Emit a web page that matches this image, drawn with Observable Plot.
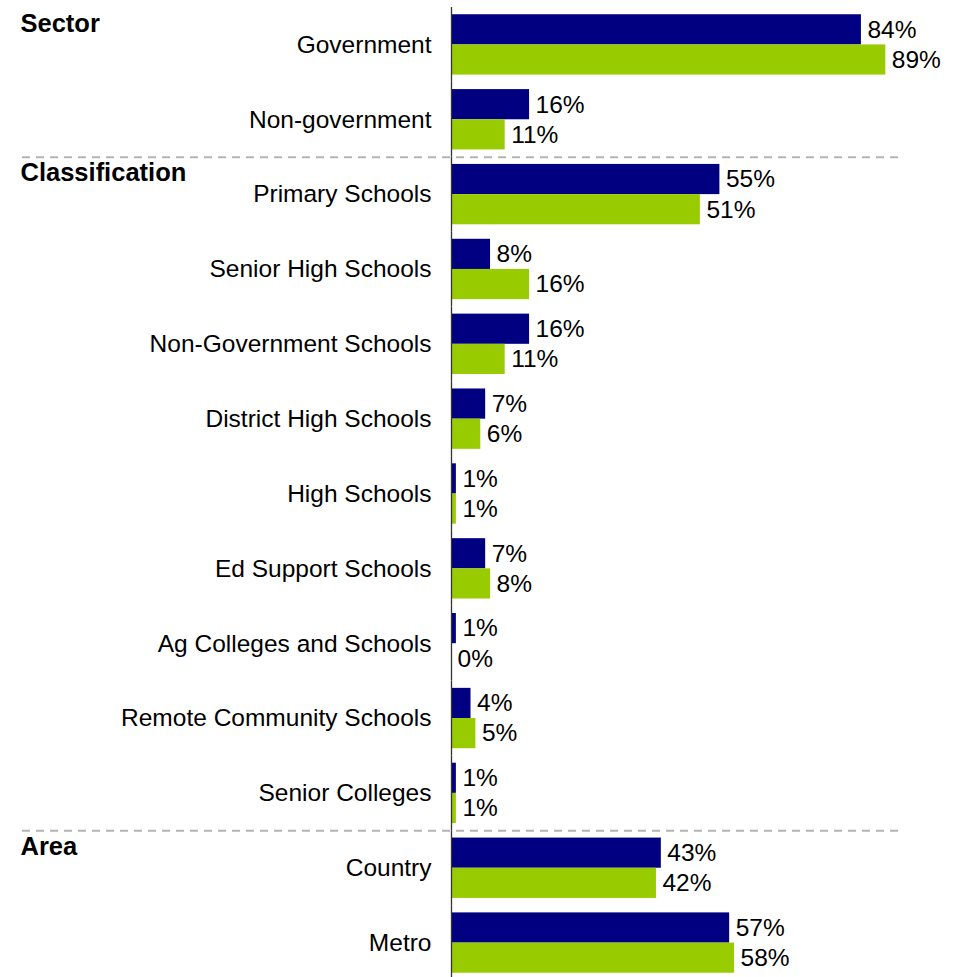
<!DOCTYPE html>
<html><head><meta charset="utf-8">
<script src="https://cdn.jsdelivr.net/npm/d3@7"></script>
<script src="https://cdn.jsdelivr.net/npm/@observablehq/plot@0.6"></script>
<style>html,body{margin:0;padding:0;overflow:hidden;background:#fff}</style>
</head><body><div id="chart"></div>
<script>
const categories = ["Government","Non-government","Primary Schools","Senior High Schools","Non-Government Schools","District High Schools","High Schools","Ed Support Schools","Ag Colleges and Schools","Remote Community Schools","Senior Colleges","Country","Metro"];
const series = ["Series 1","Series 2"];
const series1Values = [84,16,55,8,16,7,1,7,1,4,1,43,57];
const series2Values = [89,11,51,16,11,6,1,8,0,5,1,42,58];
const groupNames = ["Sector","Classification","Area"];
const groupFirstCategory = ["Government","Primary Schools","Country"];
const seriesColors = ["#000080","#99CC00"];

const data = categories.flatMap((c, i) => [
  {category: c, series: series[0], value: series1Values[i]},
  {category: c, series: series[1], value: series2Values[i]}
]);
const groups = groupNames.map((name, i) => ({name, first: groupFirstCategory[i]}));
const separators = groupFirstCategory.slice(1);

const H = 980, MT = 7, MB = 0, PO = 0.24;
const step = (H - MT - MB) / categories.length;
const bw = step / (2 + 2 * PO);
const ruleOffset = -(PO * bw + bw / 2);

const chart = Plot.plot({
  width: 964, height: H,
  marginLeft: 451, marginRight: 25, marginTop: MT, marginBottom: MB,
  style: {fontFamily: "'Liberation Sans', Arial, sans-serif", fontSize: "24.5px", color: "#000", background: "#fff"},
  x: {domain: [0, 100], axis: null},
  y: {domain: series, axis: null, paddingInner: 0, paddingOuter: PO, round: false},
  fy: {domain: categories, padding: 0, axis: null, round: false},
  color: {domain: series, range: seriesColors},
  marks: [
    Plot.axisFy({anchor: "left", tickSize: 0, tickPadding: 20, label: null, fontSize: 24.5, fill: "#000"}),
    Plot.barX(data, {x: "value", y: "series", fy: "category", fill: "series"}),
    Plot.text(data, {x: "value", y: "series", fy: "category", text: d => d.value + "%", dx: 6, textAnchor: "start", fontSize: 24.5, fill: "#000"}),
    Plot.ruleY(separators, {fy: d => d, y: () => series[0], dy: ruleOffset, insetLeft: -429, insetRight: 41, stroke: "#b4b4b4", strokeWidth: 2, strokeDasharray: "8,6"}),
    Plot.ruleX([0], {stroke: "#333", strokeWidth: 1.3}),
    Plot.text(groups, {fy: "first", frameAnchor: "top-left", text: "name", dx: -431, dy: 6, lineAnchor: "top", textAnchor: "start", fontWeight: "bold", fontSize: 25.5, fill: "#000"})
  ]
});
document.getElementById("chart").appendChild(chart);
</script>
</body></html>
